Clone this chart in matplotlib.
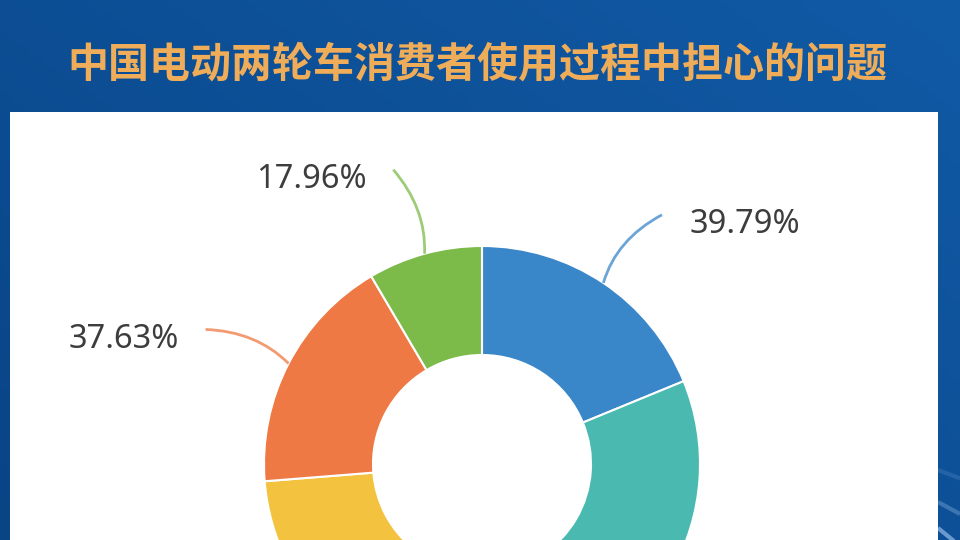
import numpy as np
import matplotlib
matplotlib.use("Agg")
import matplotlib.pyplot as plt
from matplotlib.patches import Rectangle, PathPatch
from matplotlib.path import Path

plt.rcParams['font.family'] = ['Noto Sans CJK SC', 'DejaVu Sans']

title = "中国电动两轮车消费者使用过程中担心的问题"

# slice values (clockwise from 12 o'clock); teal and yellow are mostly cut off
values = [39.79, 61.84, 54.46, 37.63, 17.96]
colors = ['#3987c9', '#4ab9b0', '#f3c23f', '#ef7944', '#7cbb4a']
show_label = [True, False, False, True, True]
label_side = ['right', 'right', 'left', 'left', 'left']

W, H = 960, 540
fig = plt.figure(figsize=(9.6, 5.4), dpi=100)
ax = fig.add_axes([0, 0, 1, 1])

# blue background
gx = np.linspace(0, 1, 200)
gy = np.linspace(0, 1, 120)
GX, GY = np.meshgrid(gx, gy)
c1 = np.array([0x09, 0x44, 0x85]) / 255
c2 = np.array([0x11, 0x5a, 0xa6]) / 255
t = np.clip(0.55 * GX + 0.45 * (1 - GY), 0, 1)[..., None]
bg = c1 * (1 - t) + c2 * t
ax.imshow(bg, extent=[0, W, 0, H], origin='upper', aspect='auto', zorder=0)

# light streaks lower right
for y0, dy, a in [(12, -30, 0.6), (38, -20, 0.3), (70, -14, 0.15)]:
    ax.plot([938, 960], [y0, y0 + dy * 0.6], color='#a9cdf2', lw=3, alpha=a, zorder=1,
            solid_capstyle='butt')

# white panel
ax.add_patch(Rectangle((10, 0), 928, H - 112, facecolor='white', edgecolor='none', zorder=2))

ax.text(477, H - 65, title, ha='center', va='center', fontsize=29.5, fontweight='bold',
        color='#efad5a', zorder=3)

# donut
cx, cy, R = 482, H - 464, 218
wedges, _ = ax.pie(values, colors=colors, startangle=90, counterclock=False,
                   center=(cx, cy), radius=R, frame=True,
                   wedgeprops=dict(width=R * 0.5, edgecolor='white', linewidth=1.5))
for w in wedges:
    w.set_zorder(4)

# leader lines + labels
for w, v, c, show, side in zip(wedges, values, colors, show_label, label_side):
    if not show:
        continue
    mid = np.deg2rad((w.theta1 + w.theta2) / 2)
    p0 = np.array([cx + R * np.cos(mid), cy + R * np.sin(mid)])
    end_ang = mid + (np.deg2rad(-2) if side == 'right' else np.deg2rad(1.5))
    p2 = np.array([cx + 1.41 * R * np.cos(end_ang), cy + 1.41 * R * np.sin(end_ang)])
    bend = np.deg2rad(3) if side == 'right' else np.deg2rad(-3)
    p1 = np.array([cx + 1.2 * R * np.cos(mid + bend), cy + 1.2 * R * np.sin(mid + bend)])
    path = Path([p0, p1, p2], [Path.MOVETO, Path.CURVE3, Path.CURVE3])
    ax.add_patch(PathPatch(path, facecolor='none', edgecolor=c, lw=2, alpha=0.75, zorder=5))
    if side == 'right':
        ax.text(p2[0] + 28, p2[1] - 10, f"{v:.2f}%", ha='left', va='center',
                fontsize=23.5, color='#3d3d3d', family=['Noto Sans', 'DejaVu Sans'], zorder=6)
    else:
        ax.text(p2[0] - 27, p2[1] - 10, f"{v:.2f}%", ha='right', va='center',
                fontsize=23.5, color='#3d3d3d', family=['Noto Sans', 'DejaVu Sans'], zorder=6)

ax.set_xlim(0, W)
ax.set_ylim(0, H)
ax.set_aspect('auto')
ax.axis('off')

fig.savefig('out.png', dpi=100)
